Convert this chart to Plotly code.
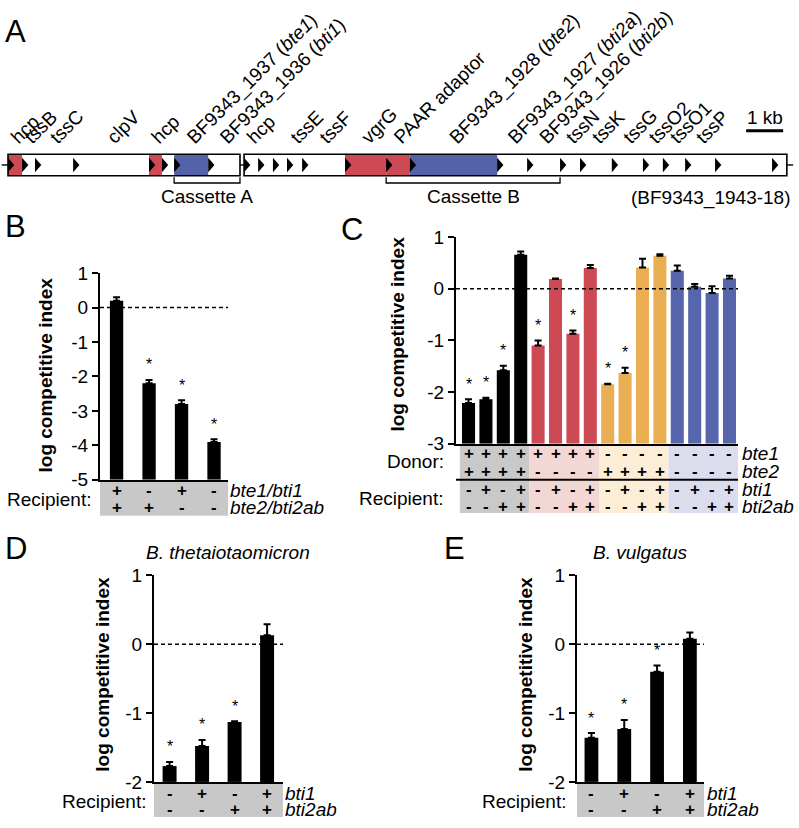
import plotly.graph_objects as go

FONT = "Liberation Sans, Arial, Helvetica, sans-serif"
W, H = 799, 828

# ---------------- Panel A data: gene map (kb from the left end of the locus) ----------------
gene_start_kb = [0.00, 0.38, 0.73, 1.76, 3.81, 4.16, 4.49, 5.41,
                 6.38, 6.76, 7.16, 7.54, 7.95, 9.11, 10.22, 10.86, 13.22, 14.03,
                 14.92, 15.46, 16.32, 17.16, 17.70, 18.30, 19.11, 20.65]
gene_end_kb = [0.38, 0.73, 1.76, 3.81, 4.16, 4.49, 5.41, 6.27,
               6.76, 7.16, 7.54, 7.95, 9.11, 10.22, 10.86, 13.22, 14.03, 14.92,
               15.46, 16.32, 17.16, 17.70, 18.30, 19.11, 20.65, 21.05]
gene_kind = ["red", "white", "white", "white", "red", "white", "blue", "white",
             "white", "white", "white", "white", "white", "red", "red", "blue", "white", "white",
             "white", "white", "white", "white", "white", "white", "white", "white"]
gene_labels = ["hcp", "tssB", "tssC", "clpV", "hcp", "", "BF9343_1937 (<i>bte1</i>)", "BF9343_1936 (<i>bti1</i>)",
               "hcp", "", "", "tssE", "tssF", "vgrG", "PAAR adaptor", "BF9343_1928 (<i>bte2</i>)",
               "BF9343_1927 (<i>bti2a</i>)", "BF9343_1926 (<i>bti2b</i>)",
               "tssN", "tssK", "tssG", "tssO2", "tssO1", "tssP", "", ""]
segment_start_kb = [0.00, 6.38]
segment_end_kb = [6.27, 21.05]
cassette_names = ["Cassette A", "Cassette B"]
cassette_start_kb = [4.49, 10.22]
cassette_end_kb = [6.27, 14.92]
scale_bar_kb = [19.95, 20.95]
locus_name = "(BF9343_1943-18)"

# ---------------- Panel B data ----------------
b_values = [0.20, -2.20, -2.80, -3.90]
b_err_top = [0.30, -2.10, -2.69, -3.82]
b_sig = [False, True, True, True]
b_row1 = ["+", "-", "+", "-"]   # bte1/bti1
b_row2 = ["+", "+", "-", "-"]   # bte2/bti2ab

# ---------------- Panel C data ----------------
c_values = [-2.21, -2.14, -1.58, 0.66, -1.10, 0.19, -0.87, 0.40,
            -1.85, -1.63, 0.41, 0.64, 0.35, 0.04, -0.08, 0.20]
c_err_top = [-2.14, -2.11, -1.49, 0.72, -1.00, 0.20, -0.81, 0.46,
             -1.84, -1.53, 0.58, 0.67, 0.45, 0.09, 0.05, 0.25]
c_sig = [True, True, True, False, True, False, True, False,
         True, True, False, False, False, False, False, False]
c_group = [0, 0, 0, 0, 1, 1, 1, 1, 2, 2, 2, 2, 3, 3, 3, 3]
c_donor_bte1 = ["+"] * 8 + ["-"] * 8
c_donor_bte2 = ["+"] * 4 + ["-"] * 4 + ["+"] * 4 + ["-"] * 4
c_recip_bti1 = ["-", "+", "-", "+"] * 4
c_recip_bti2ab = ["-", "-", "+", "+"] * 4
c_bar_colors = ["#000000", "#CD4A54", "#E9AF52", "#5766AC"]
c_band_colors = ["#C9C9C9", "#F3D7D4", "#FCEDD7", "#DCDCEF"]

# ---------------- Panels D, E data ----------------
d_values = [-1.77, -1.48, -1.13, 0.13]
d_err_top = [-1.71, -1.39, -1.12, 0.29]
d_sig = [True, True, True, False]
e_values = [-1.36, -1.23, -0.40, 0.08]
e_err_top = [-1.29, -1.10, -0.31, 0.17]
e_sig = [True, True, True, False]
de_bti1 = ["-", "+", "-", "+"]
de_bti2ab = ["-", "-", "+", "+"]


def px(xp):
    return xp / W


def py(yp):
    return 1 - yp / H


fig = go.Figure()
shapes = []
annotations = []

RED = "#CD4A54"
BLUE = "#5462A8"
kind_color = {"red": RED, "blue": BLUE, "white": "white"}

# ---------------- Panel A drawing ----------------
BOX_T, BOX_B = 148, 170
MID = (BOX_T + BOX_B) / 2
TRI_H = 7.5
TRI_W = 0.17

for s, e, k in zip(gene_start_kb, gene_end_kb, gene_kind):
    if k != "white":
        shapes.append(dict(type="rect", xref="x", yref="y", x0=s, x1=e, y0=BOX_T, y1=BOX_B,
                           fillcolor=kind_color[k], line=dict(width=0), layer="above"))
for s0, s1 in zip(segment_start_kb, segment_end_kb):
    shapes.append(dict(type="rect", xref="x", yref="y", x0=s0, x1=s1, y0=BOX_T, y1=BOX_B,
                       fillcolor="rgba(0,0,0,0)", line=dict(color="black", width=1.6), layer="above"))
shapes.append(dict(type="line", xref="x", yref="y", x0=-0.17, x1=segment_start_kb[0], y0=MID, y1=MID,
                   line=dict(color="black", width=1.4)))
shapes.append(dict(type="line", xref="x", yref="y", x0=segment_end_kb[0], x1=segment_start_kb[1], y0=MID, y1=MID,
                   line=dict(color="black", width=1.4)))
shapes.append(dict(type="line", xref="x", yref="y", x0=segment_end_kb[1], x1=segment_end_kb[1] + 0.17, y0=MID, y1=MID,
                   line=dict(color="black", width=1.4)))
for s in gene_start_kb:
    path = "M %.3f,%.2f L %.3f,%.2f L %.3f,%.2f Z" % (s, MID - TRI_H, s + TRI_W, MID, s, MID + TRI_H)
    shapes.append(dict(type="path", xref="x", yref="y", path=path, fillcolor="black",
                       line=dict(width=0), layer="above"))

label_pos = [(s + e) / 2 for s, e, lab in zip(gene_start_kb, gene_end_kb, gene_labels) if lab]
label_txt = [lab for lab in gene_labels if lab]

for name, s, e in zip(cassette_names, cassette_start_kb, cassette_end_kb):
    path = "M %.3f,%.1f L %.3f,%.1f L %.3f,%.1f L %.3f,%.1f" % (s, 171.5, s, 177.5, e, 177.5, e, 171.5)
    shapes.append(dict(type="path", xref="x", yref="y", path=path, line=dict(color="black", width=1.3)))
    annotations.append(dict(xref="x", yref="y", x=(s + e) / 2, y=191, text=name, showarrow=False,
                            xanchor="center", yanchor="middle", font=dict(size=19, family=FONT, color="black")))
shapes.append(dict(type="line", xref="x", yref="y", x0=scale_bar_kb[0], x1=scale_bar_kb[1], y0=124, y1=124,
                   line=dict(color="black", width=3)))
annotations.append(dict(xref="x", yref="y", x=sum(scale_bar_kb) / 2, y=110, text="1 kb", showarrow=False,
                        xanchor="center", yanchor="middle", font=dict(size=19, family=FONT, color="black")))
annotations.append(dict(xref="paper", yref="y", x=px(793), y=193, text=locus_name, showarrow=False,
                        xanchor="right", yanchor="middle", font=dict(size=19, family=FONT, color="black")))


# ---------------- Bar panels ----------------
def bar_panel(n, values, err_top, sig, colors, base, xrange_, xdom, ydom, ticks, bar_w):
    k = len(values)
    fig.add_trace(go.Bar(
        x=list(range(k)), y=[v - base for v in values], base=base, width=bar_w,
        marker=dict(color=colors, line=dict(width=0)),
        error_y=dict(type="data", symmetric=False, array=[e - v for e, v in zip(err_top, values)],
                     arrayminus=[0] * k, color="black", thickness=2, width=3.5),
        xaxis="x%d" % n, yaxis="y%d" % n, showlegend=False, hoverinfo="skip"))
    fig.update_layout(**{
        "xaxis%d" % n: dict(domain=[px(xdom[0]), px(xdom[1])], range=xrange_, anchor="y%d" % n,
                            showline=True, linecolor="black", linewidth=2, showticklabels=False,
                            ticks="", showgrid=False, zeroline=False, fixedrange=True),
        "yaxis%d" % n: dict(domain=[py(ydom[1]), py(ydom[0])], range=[base, 1], anchor="x%d" % n,
                            showline=True, linecolor="black", linewidth=2, ticks="outside", ticklen=6,
                            tickwidth=2, tickcolor="black", tickvals=ticks,
                            ticktext=[str(t) for t in ticks],
                            tickfont=dict(size=19, family=FONT, color="black"),
                            showgrid=False, zeroline=False, fixedrange=True),
    })
    shapes.append(dict(type="line", xref="x%d domain" % n, yref="y%d" % n, x0=0, x1=1, y0=0, y1=0,
                       line=dict(color="black", width=1.5, dash="4px,3px")))
    for i, (e, s) in enumerate(zip(err_top, sig)):
        if s:
            annotations.append(dict(xref="x%d" % n, yref="y%d" % n, x=i, y=e, text="*", showarrow=False,
                                    xanchor="center", yanchor="middle", yshift=15,
                                    font=dict(size=16, family=FONT, color="black")))


def ytitle(xc, yc):
    annotations.append(dict(xref="paper", yref="paper", x=px(xc), y=py(yc), text="<b>log competitive index</b>",
                            textangle=-90, showarrow=False, xanchor="center", yanchor="middle",
                            font=dict(size=19, family=FONT, color="black")))


def text(x, yp, t, anchor="center", size=19, italic=False, xref="paper", height=None):
    if italic:
        t = "<i>%s</i>" % t
    annotations.append(dict(xref=xref, yref="paper", x=x, y=py(yp), text=t, showarrow=False,
                            xanchor=anchor, yanchor="middle", height=height, valign="middle",
                            font=dict(size=size, family=FONT, color="black")))


def sign(x, yp, t, xref):
    annotations.append(dict(xref=xref, yref="paper", x=x, y=py(yp), text="<b>%s</b>" % t, showarrow=False,
                            xanchor="center", yanchor="middle", height=14, valign="middle",
                            font=dict(size=17, family=FONT, color="black")))


# Panel B
bar_panel(2, b_values, b_err_top, b_sig, ["black"] * 4, -5, [-0.51, 3.43], (100, 228), (270, 482),
          [-5, -4, -3, -2, -1, 0, 1], 0.41)
ytitle(45, 375)
shapes.append(dict(type="rect", xref="x2 domain", yref="paper", x0=0, x1=1, y0=py(519), y1=py(483),
                   fillcolor="#C8C8C8", line=dict(width=0), layer="below"))
for i, (r1, r2) in enumerate(zip(b_row1, b_row2)):
    sign(i, 493, r1, "x2")
    sign(i, 510, r2, "x2")
text(px(228), 493, "bte1/bti1", anchor="left", italic=True, height=16)
text(px(228), 510, "bte2/bti2ab", anchor="left", italic=True, height=16)
text(px(94), 502, "Recipient:", anchor="right")

# Panel C
c_cols = [c_bar_colors[g] for g in c_group]
c_xr = [-0.72, 15.49]
bar_panel(3, c_values, c_err_top, c_sig, c_cols, -3, c_xr, (456, 738), (233, 445),
          [-3, -2, -1, 0, 1], 0.75)
ytitle(398, 333)
for g, col in enumerate(c_band_colors):
    members = [i for i, gg in enumerate(c_group) if gg == g]
    x0 = max(min(members) - 0.5, c_xr[0])
    x1 = min(max(members) + 0.5, c_xr[1])
    shapes.append(dict(type="rect", xref="x3", yref="paper", x0=x0, x1=x1, y0=py(516), y1=py(446),
                       fillcolor=col, line=dict(width=0), layer="below"))
shapes.append(dict(type="line", xref="x3 domain", yref="paper", x0=0, x1=1, y0=py(482), y1=py(482),
                   line=dict(color="black", width=2)))
for i in range(len(c_values)):
    sign(i, 455, c_donor_bte1[i], "x3")
    sign(i, 473, c_donor_bte2[i], "x3")
    sign(i, 491, c_recip_bti1[i], "x3")
    sign(i, 509, c_recip_bti2ab[i], "x3")
for lab, yy in zip(["bte1", "bte2", "bti1", "bti2ab"], [455, 473, 491, 509]):
    text(px(740), yy, lab, anchor="left", italic=True, height=16)
text(px(446), 463, "Donor:", anchor="right")
text(px(446), 501, "Recipient:", anchor="right")

# Panel D
bar_panel(4, d_values, d_err_top, d_sig, ["black"] * 4, -2, [-0.48, 3.49], (154, 283), (580, 792),
          [-2, -1, 0, 1], 0.43)
ytitle(103, 682)
shapes.append(dict(type="rect", xref="x4 domain", yref="paper", x0=0, x1=1, y0=py(828), y1=py(793),
                   fillcolor="#C8C8C8", line=dict(width=0), layer="below"))
for i in range(4):
    sign(i, 803, de_bti1[i], "x4")
    sign(i, 820, de_bti2ab[i], "x4")
text(px(283), 803, "bti1", anchor="left", italic=True, height=16)
text(px(283), 820, "bti2ab", anchor="left", italic=True, height=16)
text(px(149), 812, "Recipient:", anchor="right")
text(px(228), 557, "B. thetaiotaomicron", italic=True)

# Panel E
bar_panel(5, e_values, e_err_top, e_sig, ["black"] * 4, -2, [-0.44, 3.43], (577, 704), (580, 792),
          [-2, -1, 0, 1], 0.42)
ytitle(526, 682)
shapes.append(dict(type="rect", xref="x5 domain", yref="paper", x0=0, x1=1, y0=py(828), y1=py(793),
                   fillcolor="#C8C8C8", line=dict(width=0), layer="below"))
for i in range(4):
    sign(i, 803, de_bti1[i], "x5")
    sign(i, 820, de_bti2ab[i], "x5")
text(px(705), 803, "bti1", anchor="left", italic=True, height=16)
text(px(705), 820, "bti2ab", anchor="left", italic=True, height=16)
text(px(569), 812, "Recipient:", anchor="right")
text(px(640), 557, "B. vulgatus", italic=True)

# Panel letters
for letter, xl, yl in [("A", 3, 22), ("B", 3, 222), ("C", 339, 225), ("D", 3, 553), ("E", 442, 553)]:
    annotations.append(dict(xref="paper", yref="paper", x=px(xl), y=py(yl), text=letter, showarrow=False,
                            xanchor="left", yanchor="middle", font=dict(size=31, family=FONT, color="black")))

fig.update_layout(
    width=W, height=H, margin=dict(l=0, r=0, t=0, b=0),
    paper_bgcolor="white", plot_bgcolor="rgba(0,0,0,0)",
    xaxis=dict(domain=[0, 1], range=[-8 / 37, 791 / 37], fixedrange=True,
               side="top", anchor="free", position=py(145),
               showline=False, showgrid=False, zeroline=False, ticks="",
               tickmode="array", tickvals=label_pos, ticktext=label_txt, tickangle=-45,
               ticklabelshift=-3,
               tickfont=dict(size=19, family=FONT, color="black")),
    yaxis=dict(domain=[0, 1], range=[H, 0], visible=False, fixedrange=True),
    shapes=shapes, annotations=annotations, showlegend=False, barmode="overlay",
    font=dict(family=FONT, color="black"),
)
fig.add_trace(go.Scatter(x=[0], y=[0], mode="markers", marker=dict(opacity=0), xaxis="x", yaxis="y",
                         hoverinfo="skip", showlegend=False))

fig.write_html("out.html", config={"displayModeBar": False},
               post_script="document.body.style.margin='0px';")
